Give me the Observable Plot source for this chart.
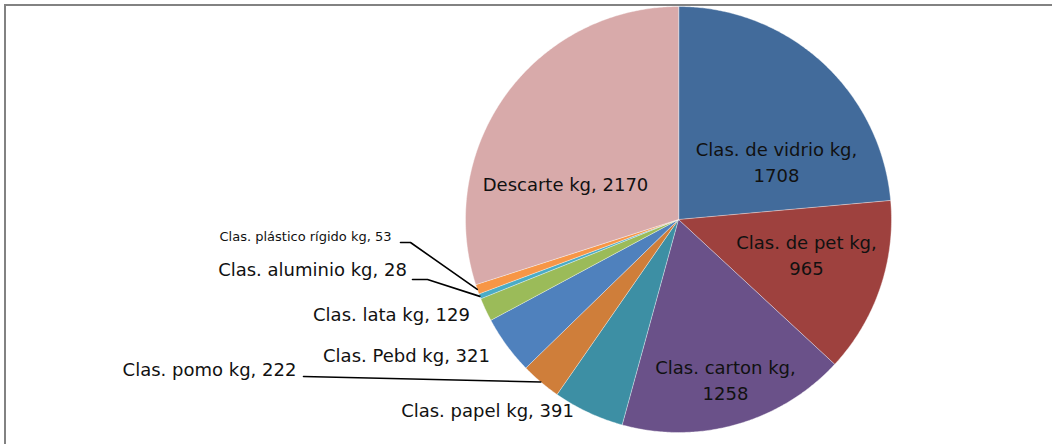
<!DOCTYPE html>
<html><head><meta charset="utf-8">
<script src="https://cdn.jsdelivr.net/npm/d3@7"></script>
<script src="https://cdn.jsdelivr.net/npm/@observablehq/plot@0.6"></script>
<style>
html,body{margin:0;padding:0;background:#fff;overflow:hidden;}
#wrap{position:relative;width:1052px;height:444px;overflow:hidden;}
#border{position:absolute;left:4px;top:4px;width:1100px;height:500px;border:2px solid #828282;pointer-events:none;}
</style></head><body>
<div id="wrap"><div id="chart"></div><div id="border"></div></div>
<script>
// ---- data ----
const categories = ["Clas. de vidrio kg", "Clas. de pet kg", "Clas. carton kg", "Clas. papel kg", "Clas. pomo kg",
  "Clas. Pebd kg", "Clas. lata kg", "Clas. aluminio kg", "Clas. plástico rígido kg", "Descarte kg"];
const values = [1708, 965, 1258, 391, 222, 321, 129, 28, 53, 2170];

// ---- style / layout (not data) ----
const colors = ["#426B9B", "#9E413E", "#6A5189", "#3D8FA4", "#CF7E3A", "#4F81BD", "#9BBB59", "#4BACC6", "#F79646", "#D8AAAA"];
// label centre offsets from pie centre, px
const labelOffsets = [[98, -56], [128, 37], [47, 162], [-191, 192], [-469, 151], [-272, 137], [-287, 96], [-366, 51], [-373, 19], [-113, -34]];
const labelSizes = [18, 18, 18, 18, 18, 18, 18, 18, 13, 18];
const twoLine = [true, true, true, false, false, false, false, false, false, false];
// leader-line elbow points (px offsets from centre) for labels outside the pie
const leaders = {
  "Clas. pomo kg": [[-375, 157]],
  "Clas. aluminio kg": [[-266, 60], [-251, 60]],
  "Clas. plástico rígido kg": [[-278, 23], [-268, 23]]
};

const W = 1052, H = 444, CX = 678, CY = 219, R = 213;

const data = categories.map((c, i) => ({cat: c, value: values[i]}));
const arcs = d3.pie().sort(null).value(d => d.value).startAngle(0).endAngle(2 * Math.PI)(data);

// slice polygons in unit-radius coordinates (angle clockwise from top)
const slicePts = [];
arcs.forEach(a => {
  const c = a.data.cat;
  slicePts.push({cat: c, x: 0, y: 0});
  const n = Math.max(2, Math.ceil((a.endAngle - a.startAngle) / (Math.PI / 360)));
  for (let k = 0; k <= n; k++) {
    const t = a.startAngle + (a.endAngle - a.startAngle) * k / n;
    slicePts.push({cat: c, x: Math.sin(t), y: Math.cos(t)});
  }
});

const labels = arcs.map((a, i) => ({
  cat: a.data.cat,
  text: twoLine[i] ? `${a.data.cat},\n${a.data.value}` : `${a.data.cat}, ${a.data.value}`,
  x: labelOffsets[i][0] / R,
  y: -labelOffsets[i][1] / R,
  size: labelSizes[i]
}));

const leaderPts = [];
arcs.forEach(a => {
  const pts = leaders[a.data.cat];
  if (!pts) return;
  pts.forEach(p => leaderPts.push({cat: a.data.cat, x: p[0] / R, y: -p[1] / R}));
  const mid = (a.startAngle + a.endAngle) / 2;
  leaderPts.push({cat: a.data.cat, x: Math.sin(mid), y: Math.cos(mid)});
});

const chart = Plot.plot({
  width: W, height: H,
  margin: 0,
  x: {domain: [-CX / R, (W - CX) / R], range: [0, W], axis: null},
  y: {domain: [-(H - CY) / R, CY / R], range: [H, 0], axis: null},
  color: {domain: categories, range: colors},
  style: {fontFamily: "DejaVu Sans", background: "white", overflow: "visible"},
  marks: [
    Plot.line(slicePts, {x: "x", y: "y", z: "cat", fill: "cat", stroke: "white", strokeWidth: 0.4, curve: "linear-closed"}),
    Plot.line(leaderPts, {x: "x", y: "y", z: "cat", stroke: "black", strokeWidth: 1.6, curve: "linear"}),
    Plot.text(labels.filter(d => d.size === 18), {x: "x", y: "y", text: "text", fontSize: 18, lineHeight: 1.47, fill: "#111", textAnchor: "middle", lineAnchor: "middle", dy: -3}),
    Plot.text(labels.filter(d => d.size !== 18), {x: "x", y: "y", text: "text", fontSize: 13, fill: "#111", textAnchor: "middle", lineAnchor: "middle", dy: -2})
  ]
});
document.getElementById("chart").appendChild(chart);
</script>
</body></html>
